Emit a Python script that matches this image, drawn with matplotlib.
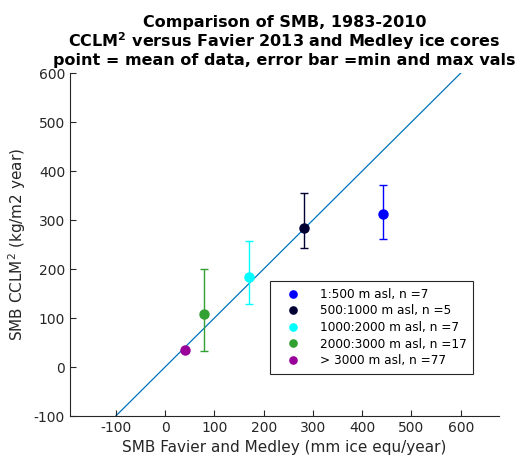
import matplotlib
matplotlib.use("Agg")
import matplotlib.pyplot as plt
import numpy as np

plt.rcParams["axes.unicode_minus"] = False

# data
labels = ["1:500 m asl, n =7", "500:1000 m asl, n =5", "1000:2000 m asl, n =7",
          "2000:3000 m asl, n =17", "> 3000 m asl, n =77"]
x_mean = [443, 281, 171, 78, 41]
y_mean = [313, 283, 184, 108, 35]
y_min = [262, 243, 128, 33, 35]
y_max = [372, 355, 257, 200, 35]
colors = ["#0000ff", "#000033", "#00ffff", "#33a033", "#990099"]
one_to_one = [-100, 600]
xticks = [-100, 0, 100, 200, 300, 400, 500, 600]
yticks = [-100, 0, 100, 200, 300, 400, 500, 600]

fig = plt.figure(figsize=(5.3, 4.61), dpi=100)
ax = fig.add_axes([0.132, 0.0976, 0.809, 0.744])

ax.plot(one_to_one, one_to_one, color="#0072BD", lw=0.9, zorder=1)

for xm, ym, lo, hi, c, lab in zip(x_mean, y_mean, y_min, y_max, colors, labels):
    ax.errorbar(xm, ym, yerr=[[ym - lo], [hi - ym]], fmt="none", ecolor=c,
                elinewidth=1.0, capsize=3, capthick=1.0, zorder=2)
    ax.plot(xm, ym, "o", color=c, ms=6.5, label=lab, zorder=3)

ax.set_xlim(-193, 677)
ax.set_ylim(-100, 600)
ax.set_xticks(xticks)
ax.set_yticks(yticks)
ax.tick_params(direction="in", colors="#262626", labelsize=10, length=4)
for s in ["top", "right"]:
    ax.spines[s].set_visible(False)
for s in ["left", "bottom"]:
    ax.spines[s].set_color("#262626")

ax.set_xlabel("SMB Favier and Medley (mm ice equ/year)", fontsize=11, color="#262626")
ax.set_ylabel("SMB CCLM$^2$ (kg/m2 year)", fontsize=11, color="#262626")
ax.set_title("Comparison of SMB, 1983-2010\nCCLM$^\\mathbf{2}$ versus Favier 2013 and Medley ice cores\n"
             "point = mean of data, error bar =min and max vals",
             fontsize=11.5, fontweight="bold", linespacing=1.05, pad=6)

leg = ax.legend(loc="lower left", bbox_to_anchor=(0.452, 0.105), fontsize=8.7,
                fancybox=False, edgecolor="#262626", framealpha=1,
                handlelength=2.8, markerscale=0.8, borderpad=0.55, labelspacing=0.3)
leg.get_frame().set_linewidth(0.8)

fig.savefig("out.png", dpi=100)
